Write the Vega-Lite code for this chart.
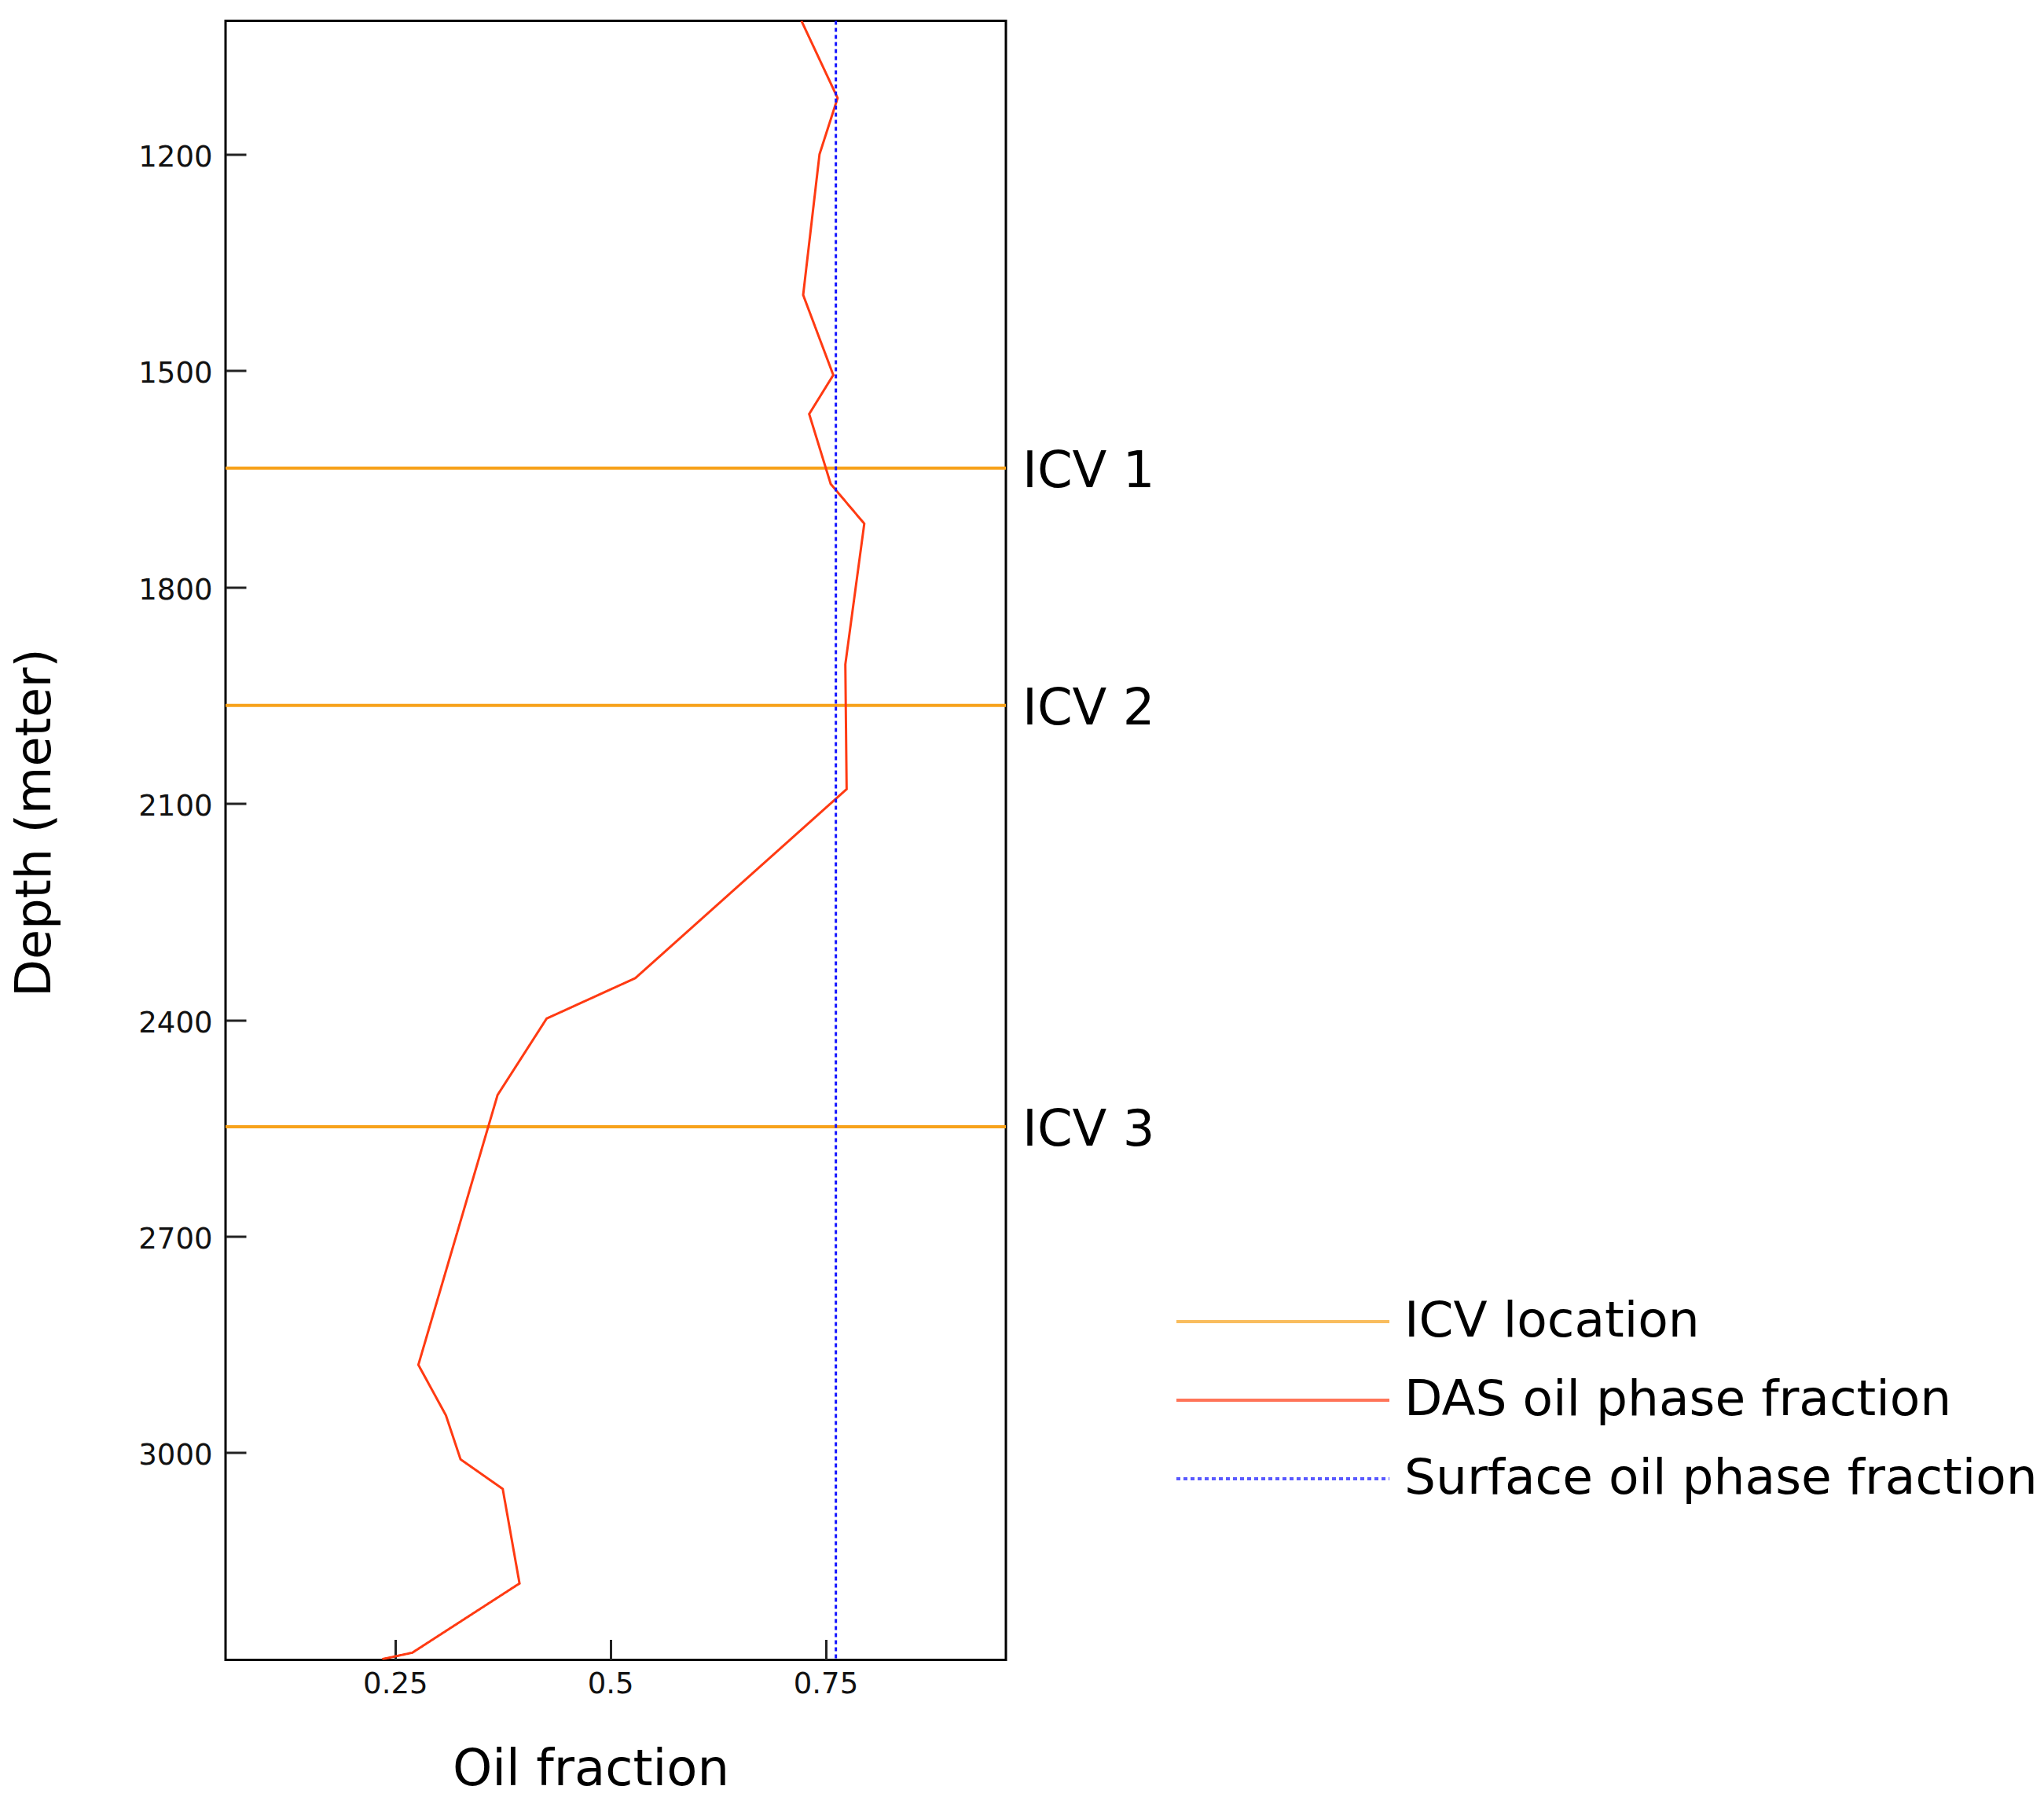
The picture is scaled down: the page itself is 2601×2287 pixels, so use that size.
{
  "$schema": "https://vega.github.io/schema/vega-lite/v6.json",
  "width": 993,
  "height": 2086,
  "autosize": {"type": "none"},
  "padding": {"left": 287, "top": 26.5, "right": 1321, "bottom": 174.5},
  "background": "white",
  "datasets": {
    "das": [
      {"series": "DAS oil phase fraction", "fraction": 0.722, "depth": 1015},
      {"series": "DAS oil phase fraction", "fraction": 0.764, "depth": 1122},
      {"series": "DAS oil phase fraction", "fraction": 0.743, "depth": 1200},
      {"series": "DAS oil phase fraction", "fraction": 0.724, "depth": 1395},
      {"series": "DAS oil phase fraction", "fraction": 0.759, "depth": 1506},
      {"series": "DAS oil phase fraction", "fraction": 0.731, "depth": 1560},
      {"series": "DAS oil phase fraction", "fraction": 0.756, "depth": 1657},
      {"series": "DAS oil phase fraction", "fraction": 0.795, "depth": 1712},
      {"series": "DAS oil phase fraction", "fraction": 0.773, "depth": 1907},
      {"series": "DAS oil phase fraction", "fraction": 0.7745, "depth": 2080},
      {"series": "DAS oil phase fraction", "fraction": 0.529, "depth": 2342},
      {"series": "DAS oil phase fraction", "fraction": 0.426, "depth": 2398},
      {"series": "DAS oil phase fraction", "fraction": 0.369, "depth": 2504},
      {"series": "DAS oil phase fraction", "fraction": 0.277, "depth": 2878},
      {"series": "DAS oil phase fraction", "fraction": 0.309, "depth": 2948},
      {"series": "DAS oil phase fraction", "fraction": 0.326, "depth": 3009},
      {"series": "DAS oil phase fraction", "fraction": 0.375, "depth": 3050},
      {"series": "DAS oil phase fraction", "fraction": 0.3945, "depth": 3181},
      {"series": "DAS oil phase fraction", "fraction": 0.270, "depth": 3277},
      {"series": "DAS oil phase fraction", "fraction": 0.235, "depth": 3286}
    ],
    "icv": [
      {"series": "ICV location", "depth": 1635, "label": "ICV 1"},
      {"series": "ICV location", "depth": 1964, "label": "ICV 2"},
      {"series": "ICV location", "depth": 2548, "label": "ICV 3"}
    ],
    "surface": [
      {"series": "Surface oil phase fraction", "fraction": 0.762}
    ]
  },
  "config": {
    "font": "DejaVu Sans",
    "view": {"stroke": "black", "strokeWidth": 3},
    "axis": {
      "domain": false,
      "grid": false,
      "tickColor": "#222222",
      "tickWidth": 3,
      "labelColor": "#111111",
      "titleColor": "#000000",
      "titleFontWeight": "normal",
      "labelFont": "DejaVu Sans",
      "titleFont": "DejaVu Sans"
    },
    "legend": {
      "orient": "none",
      "legendX": 1208,
      "legendY": 1624,
      "symbolType": "stroke",
      "symbolSize": 73441,
      "symbolStrokeWidth": 4,
      "symbolOpacity": 0.7,
      "labelFontSize": 63,
      "labelFont": "DejaVu Sans",
      "labelColor": "#000000",
      "labelOffset": 17,
      "labelLimit": 2000,
      "clipHeight": 63,
      "rowPadding": 36,
      "padding": 0
    }
  },
  "layer": [
    {
      "data": {"name": "icv"},
      "mark": {"type": "rule", "strokeWidth": 4},
      "encoding": {
        "y": {
          "field": "depth", "type": "quantitative",
          "scale": {"domain": [1015, 3287], "reverse": true, "nice": false, "zero": false},
          "axis": {
            "title": "Depth (meter)",
            "values": [1200, 1500, 1800, 2100, 2400, 2700, 3000],
            "labelExpr": "'' + datum.value",
            "labelFontSize": 37,
            "tickSize": -26,
            "labelPadding": 43,
            "labelOffset": 4,
            "titleFontSize": 62,
            "titleAngle": 270,
            "titleBaseline": "alphabetic",
            "titleAlign": "center",
            "titleX": -224,
            "titleY": 1020
          }
        },
        "color": {
          "field": "series", "type": "nominal",
          "scale": {
            "domain": ["ICV location", "DAS oil phase fraction", "Surface oil phase fraction"],
            "range": ["#f7a21b", "#ff3a12", "#1414ff"]
          },
          "legend": {"title": null}
        },
        "strokeDash": {
          "field": "series", "type": "nominal",
          "scale": {
            "domain": ["ICV location", "DAS oil phase fraction", "Surface oil phase fraction"],
            "range": [[1, 0], [1, 0], [5, 4]]
          },
          "legend": {"title": null}
        }
      }
    },
    {
      "data": {"name": "icv"},
      "mark": {"type": "text", "align": "left", "baseline": "middle", "fontSize": 64, "font": "DejaVu Sans", "color": "#000000", "dx": 21, "dy": 5},
      "encoding": {
        "x": {"datum": 0.9595, "type": "quantitative", "scale": {"domain": [0.053, 0.9595], "nice": false, "zero": false}},
        "y": {"field": "depth", "type": "quantitative", "scale": {"domain": [1015, 3287], "reverse": true, "nice": false, "zero": false}},
        "text": {"field": "label"}
      }
    },
    {
      "data": {"name": "das"},
      "mark": {"type": "line", "strokeWidth": 3, "clip": true},
      "encoding": {
        "x": {
          "field": "fraction", "type": "quantitative",
          "scale": {"domain": [0.053, 0.9595], "nice": false, "zero": false},
          "axis": {
            "title": "Oil fraction",
            "values": [0.25, 0.5, 0.75],
            "labelExpr": "'' + datum.value",
            "labelFontSize": 37,
            "tickSize": -26,
            "labelPadding": 39,
            "titleFontSize": 64,
            "titleBaseline": "alphabetic",
            "titleAlign": "center",
            "titleX": 464.5,
            "titleY": 158.5
          }
        },
        "y": {"field": "depth", "type": "quantitative", "scale": {"domain": [1015, 3287], "reverse": true, "nice": false, "zero": false}},
        "order": {"field": "depth", "type": "quantitative"},
        "color": {
          "field": "series", "type": "nominal",
          "scale": {
            "domain": ["ICV location", "DAS oil phase fraction", "Surface oil phase fraction"],
            "range": ["#f7a21b", "#ff3a12", "#1414ff"]
          },
          "legend": {"title": null}
        },
        "strokeDash": {
          "field": "series", "type": "nominal",
          "scale": {
            "domain": ["ICV location", "DAS oil phase fraction", "Surface oil phase fraction"],
            "range": [[1, 0], [1, 0], [5, 4]]
          },
          "legend": {"title": null}
        }
      }
    },
    {
      "data": {"name": "surface"},
      "mark": {"type": "rule", "strokeWidth": 3},
      "encoding": {
        "x": {"field": "fraction", "type": "quantitative", "scale": {"domain": [0.053, 0.9595], "nice": false, "zero": false}},
        "color": {
          "field": "series", "type": "nominal",
          "scale": {
            "domain": ["ICV location", "DAS oil phase fraction", "Surface oil phase fraction"],
            "range": ["#f7a21b", "#ff3a12", "#1414ff"]
          },
          "legend": {"title": null}
        },
        "strokeDash": {
          "field": "series", "type": "nominal",
          "scale": {
            "domain": ["ICV location", "DAS oil phase fraction", "Surface oil phase fraction"],
            "range": [[1, 0], [1, 0], [5, 4]]
          },
          "legend": {"title": null}
        }
      }
    }
  ]
}
